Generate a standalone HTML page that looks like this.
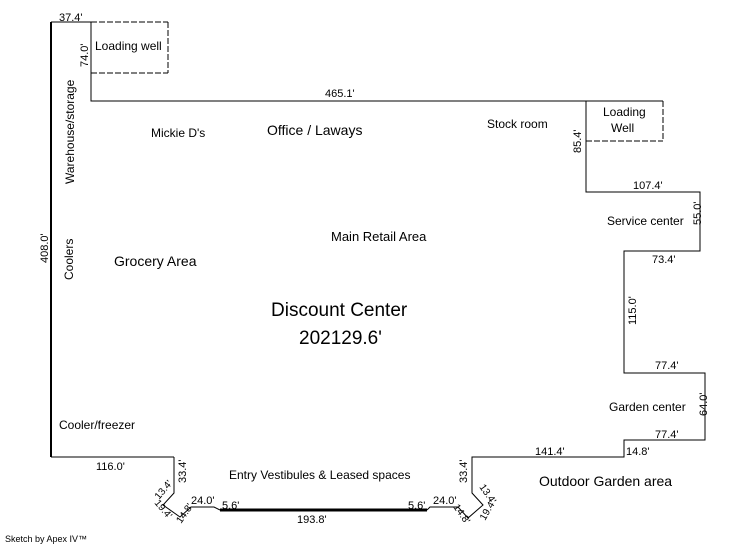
<!DOCTYPE html>
<html><head><style>
body{margin:0;background:#fff;}
svg{display:block;font-family:"Liberation Sans",sans-serif;}
</style></head><body>
<svg width="746" height="547" viewBox="0 0 746 547" xmlns="http://www.w3.org/2000/svg">
<g fill="none" stroke="#000" stroke-width="1">
<polyline points="91,22 91,101 586,101 586,192 700,192 700,251 624,251 624,373 705,373 705,440 624,440 624,457 472,457 472,493 483,505 468,518 458,507 430,507 427,510"/>
<polyline points="174,457 174,493 163,505 180,517 191,507 214,507 220,510"/>
<line x1="51" y1="457" x2="174" y2="457"/>
<line x1="51" y1="22" x2="91" y2="22"/>
<line x1="586" y1="101" x2="663" y2="101"/>
<g stroke-dasharray="6,2">
<line x1="91" y1="22" x2="168" y2="22"/>
<line x1="168" y1="22" x2="168" y2="73"/>
<line x1="91" y1="73" x2="168" y2="73"/>
<line x1="663" y1="101" x2="663" y2="141"/>
<line x1="586" y1="141" x2="663" y2="141"/>
</g>
</g>
<line x1="51" y1="22" x2="51" y2="457" stroke="#000" stroke-width="2"/>
<line x1="220" y1="510" x2="427" y2="510" stroke="#000" stroke-width="3"/>
<g font-size="11" fill="#000">
<text x="59" y="21">37.4'</text>
<text x="95" y="50" font-size="12">Loading well</text>
<text x="325" y="97">465.1'</text>
<text x="151" y="137" font-size="12">Mickie D's</text>
<text x="267" y="135" font-size="14">Office / Laways</text>
<text x="487" y="128" font-size="12">Stock room</text>
<text x="603" y="116" font-size="12">Loading</text>
<text x="611" y="132" font-size="12">Well</text>
<text x="633" y="189">107.4'</text>
<text x="607" y="225" font-size="12">Service center</text>
<text x="652" y="263">73.4'</text>
<text x="331" y="241" font-size="13">Main Retail Area</text>
<text x="114" y="266" font-size="14">Grocery Area</text>
<text x="271" y="316" font-size="19">Discount Center</text>
<text x="299" y="344" font-size="19">202129.6'</text>
<text x="655" y="369">77.4'</text>
<text x="609" y="411" font-size="12">Garden center</text>
<text x="655" y="438">77.4'</text>
<text x="626" y="455">14.8'</text>
<text x="535" y="455">141.4'</text>
<text x="539" y="486" font-size="14">Outdoor Garden area</text>
<text x="59" y="429" font-size="12">Cooler/freezer</text>
<text x="96" y="470">116.0'</text>
<text x="229" y="479" font-size="12">Entry Vestibules &amp; Leased spaces</text>
<text x="191" y="504">24.0'</text>
<text x="222" y="509">5.6'</text>
<text x="297" y="523">193.8'</text>
<text x="408" y="509">5.6'</text>
<text x="433" y="504">24.0'</text>
<text x="5" y="542" font-size="9">Sketch by Apex IV™</text>
<text transform="translate(48,263) rotate(-90)">408.0'</text>
<text transform="translate(74,184) rotate(-90)" font-size="12">Warehouse/storage</text>
<text transform="translate(73,280) rotate(-90)" font-size="12">Coolers</text>
<text transform="translate(88,67) rotate(-90)">74.0'</text>
<text transform="translate(581,153) rotate(-90)">85.4'</text>
<text transform="translate(701,225) rotate(-90)">55.0'</text>
<text transform="translate(636,325) rotate(-90)">115.0'</text>
<text transform="translate(707,416) rotate(-90)">64.0'</text>
<text transform="translate(186,483) rotate(-90)">33.4'</text>
<text transform="translate(467,483) rotate(-90)">33.4'</text>
<text transform="translate(159,500) rotate(-50)" font-size="10">13.4'</text>
<text transform="translate(154,503) rotate(50)" font-size="10">19.4'</text>
<text transform="translate(181,524) rotate(-55)" font-size="10">14.8'</text>
<text transform="translate(479,487) rotate(55)" font-size="10">13.4'</text>
<text transform="translate(485,521) rotate(-60)" font-size="10">19.4'</text>
<text transform="translate(453,507) rotate(55)" font-size="10">14.8'</text>
</g>
</svg>
</body></html>
